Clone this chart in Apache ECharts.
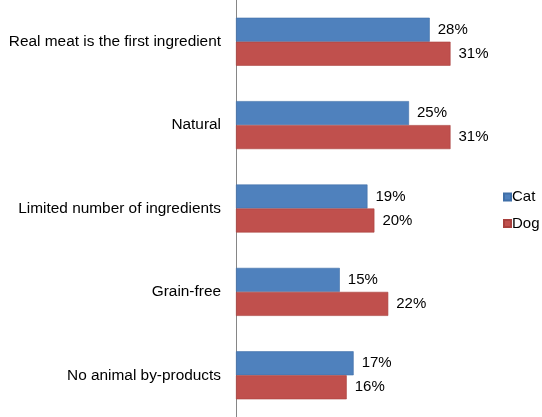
<!DOCTYPE html>
<html>
<head>
<meta charset="utf-8">
<script src="https://cdn.jsdelivr.net/npm/echarts@6/dist/echarts.min.js"></script>
<style>html,body{margin:0;padding:0;background:#fff;}#c{width:542px;height:417px;}</style>
</head>
<body>
<div id="c"></div>
<script>
var categories = ["Real meat is the first ingredient", "Natural", "Limited number of ingredients", "Grain-free", "No animal by-products"];
var catValues = [28, 25, 19, 15, 17];
var dogValues = [31, 31, 20, 22, 16];
var seriesNames = ["Cat", "Dog"];

var chart = echarts.init(document.getElementById('c'), null, {renderer: 'canvas'});
var font = 'Arial, "Liberation Sans", sans-serif';
var labelCfg = {show: true, position: 'right', distance: 8, formatter: '{c}%', color: '#000', fontSize: 15, fontFamily: font};
chart.setOption({
  animation: false,
  backgroundColor: '#fff',
  grid: {left: 236, top: 0, width: 242.2, height: 421},
  legend: {
    orient: 'vertical', left: 503, top: 189.5, padding: 0,
    itemWidth: 7, itemHeight: 7, itemGap: 11.5,
    icon: 'rect',
    textStyle: {fontSize: 15, fontFamily: font, color: '#000', padding: [0,0,0,-4]},
    data: seriesNames
  },
  xAxis: {
    type: 'value', min: 0, max: 35,
    show: false
  },
  yAxis: {
    type: 'category', inverse: true, data: categories,
    axisLine: {show: true, lineStyle: {color: '#868686', width: 1}},
    axisTick: {show: false},
    axisLabel: {fontSize: 15.4, fontFamily: font, color: '#000', margin: 15}
  },
  series: [
    {name: seriesNames[0], type: 'bar', data: catValues, barWidth: 24, barGap: '0%',
     itemStyle: {color: '#4F81BD', borderColor: '#3F6FA8', borderWidth: 0.6}, label: labelCfg},
    {name: seriesNames[1], type: 'bar', data: dogValues, barWidth: 24, barGap: '0%',
     itemStyle: {color: '#C0504D', borderColor: '#A8403D', borderWidth: 0.6}, label: labelCfg}
  ]
});
</script>
</body>
</html>
